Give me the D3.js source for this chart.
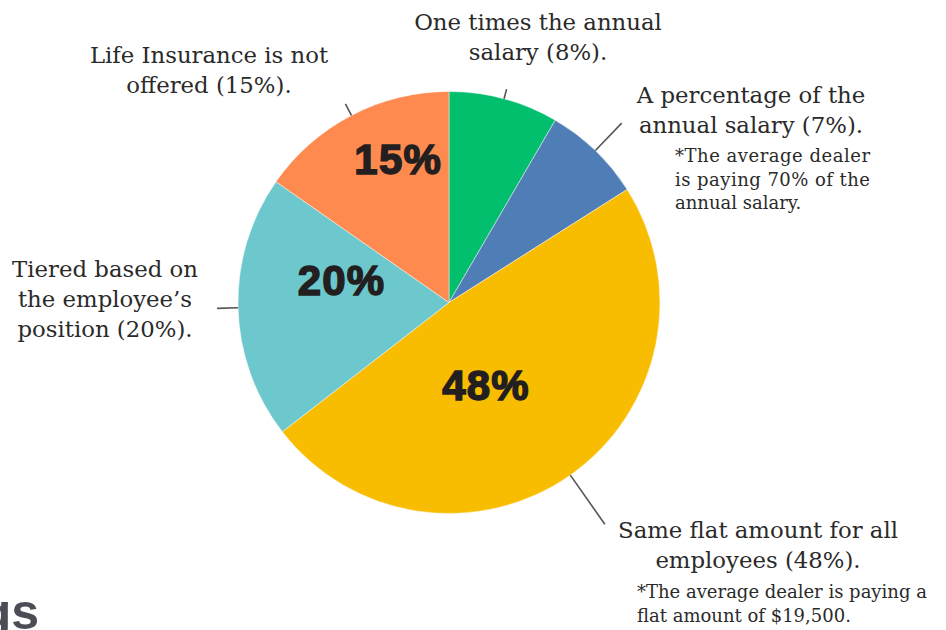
<!DOCTYPE html>
<html><head><meta charset="utf-8">
<script src="https://cdn.jsdelivr.net/npm/d3@7"></script>
<style>
html,body{margin:0;padding:0;background:#fff;}
svg{display:block;}
</style></head>
<body>
<script>
// ---- data ----
const categories = ["One times the annual salary","A percentage of the annual salary","Same flat amount for all employees","Tiered based on the employee’s position","Life Insurance is not offered"];
const shares = [8.4, 7.6, 48.5, 20.2, 15.3];          // slice sizes
const labelPct = ["8%", "7%", "48%", "20%", "15%"];     // printed percentages
const colors = ["#02bf6e", "#4f7db6", "#f8bc00", "#6cc8cc", "#fe8a50"];
const outerLabels = [
  ["One times the annual", "salary (8%)."],
  ["A percentage of the", "annual salary (7%)."],
  ["Same flat amount for all", "employees (48%)."],
  ["Tiered based on", "the employee’s", "position (20%)."],
  ["Life Insurance is not", "offered (15%)."]
];
const notes = [
  null,
  ["*The average dealer", "is paying 70% of the", "annual salary."],
  ["*The average dealer is paying a", "flat amount of $19,500."],
  null, null
];
const showInner = [false, false, true, true, true];

// ---- layout ----
const W = 946, H = 630;
const cx = 449, cy = 302.5, R = 211;
const leaderLen = [10, 38, 60, 21, 13];
const outerPos = [
  {x: 538, y: 30, a: "middle"},
  {x: 751, y: 103, a: "middle"},
  {x: 758, y: 538, a: "middle"},
  {x: 105, y: 277, a: "middle"},
  {x: 209, y: 63, a: "middle"}
];
const notePos = [null, {x: 675, y: 162, w: 195}, {x: 637, y: 598}, null, null];
const innerOffset = [null, null, [0.43, 11], [0.52, 13], [0.72, 8]]; // radius fraction, angle shift (deg)

const svg = d3.select("body").append("svg").attr("width", W).attr("height", H);

const pie = d3.pie().value(d => d).sort(null);
const arcs = pie(shares);
const arc = d3.arc().innerRadius(0).outerRadius(R);

const g = svg.append("g").attr("transform", `translate(${cx},${cy})`);
g.selectAll("path.slice").data(arcs).join("path")
  .attr("class", "slice")
  .attr("d", arc)
  .attr("fill", (d, i) => colors[i])
  .attr("stroke", "rgba(255,255,255,0.45)")
  .attr("stroke-width", 1);

const polar = (ang, r) => [Math.sin(ang) * r, -Math.cos(ang) * r];
g.selectAll("line.leader").data(arcs).join("line")
  .attr("class", "leader")
  .each(function (d, i) {
    const m = (d.startAngle + d.endAngle) / 2;
    const p0 = polar(m, R), p1 = polar(m, R + leaderLen[i]);
    d3.select(this).attr("x1", p0[0]).attr("y1", p0[1]).attr("x2", p1[0]).attr("y2", p1[1]);
  })
  .attr("stroke", "#555")
  .attr("stroke-width", 1.6);

arcs.forEach((d, i) => {
  if (!showInner[i]) return;
  const m = (d.startAngle + d.endAngle) / 2 + innerOffset[i][1] * Math.PI / 180;
  const p = polar(m, R * innerOffset[i][0]);
  g.append("text")
    .attr("x", p[0]).attr("y", p[1])
    .attr("text-anchor", "middle")
    .attr("dominant-baseline", "central")
    .attr("font-family", "'Liberation Sans', Arial, sans-serif")
    .attr("font-weight", "bold")
    .attr("font-size", 42)
    .attr("letter-spacing", 1.2)
    .attr("fill", "#231f20")
    .attr("stroke", "#231f20")
    .attr("stroke-width", 1.5)
    .text(labelPct[i]);
});

const serif = "'DejaVu Serif', 'Liberation Serif', serif";
outerLabels.forEach((lines, i) => {
  const pos = outerPos[i];
  const t = svg.append("text")
    .attr("font-family", serif)
    .attr("font-size", 22.8)
    .attr("fill", "#2a2a2a")
    .attr("text-anchor", pos.a);
  lines.forEach((ln, k) => {
    t.append("tspan").attr("x", pos.x).attr("y", pos.y + k * 30).text(ln);
  });
});

notes.forEach((lines, i) => {
  if (!lines) return;
  const pos = notePos[i];
  const t = svg.append("text")
    .attr("font-family", serif)
    .attr("font-size", 18)
    .attr("fill", "#2a2a2a");
  lines.forEach((ln, k) => {
    const ts = t.append("tspan").attr("x", pos.x).attr("y", pos.y + k * 23.5).text(ln);
    if (pos.w && k < lines.length - 1) ts.attr("textLength", pos.w).attr("lengthAdjust", "spacing");
  });
});

svg.append("text")
  .attr("x", 39).attr("y", 629)
  .attr("text-anchor", "end")
  .attr("font-family", "'Liberation Sans', Arial, sans-serif")
  .attr("font-weight", "bold")
  .attr("font-size", 50)
  .attr("fill", "#4a4e54")
  .text("gs");
</script>
</body></html>
